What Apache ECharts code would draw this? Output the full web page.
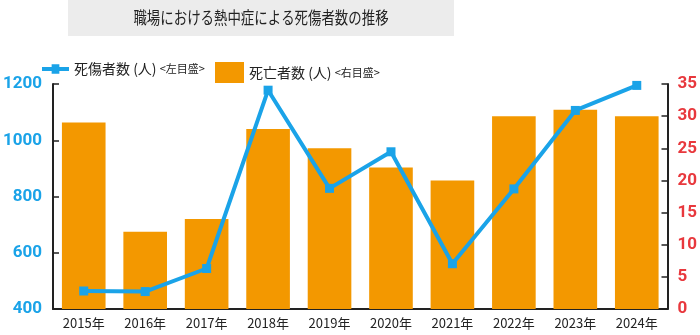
<!DOCTYPE html>
<html><head><meta charset="utf-8">
<script src="https://cdn.jsdelivr.net/npm/echarts@6/dist/echarts.min.js"></script>
<style>html,body{margin:0;padding:0;background:#fff}#c{width:700px;height:335px}</style>
</head><body><div id="c"></div>
<script>
const categories = ['2015年','2016年','2017年','2018年','2019年','2020年','2021年','2022年','2023年','2024年'];
const casualties = [464, 462, 544, 1178, 829, 959, 561, 827, 1106, 1195];
const deaths = [29, 12, 14, 28, 25, 22, 20, 30, 31, 30];
const leftTicks = [400, 1200, 200];
const rightTicks = [0, 35, 5];
const chart = echarts.init(document.getElementById('c'));
const jp = '"Noto Sans CJK JP", sans-serif';
const legendText = {rich:{a:{fontSize:14, fontFamily:jp, color:'#222'}, b:{fontSize:11, fontFamily:jp, color:'#222'}}};
chart.setOption({
  animation: false,
  graphic: [
    {type:'rect', shape:{x:68,y:0,width:386,height:36}, style:{fill:'#ececec'}},
    {type:'text', x:261, y:18, scaleX:0.79, originX:0, style:{text:'職場における熱中症による死傷者数の推移', fill:'#222', font:'17px "Noto Sans CJK JP"', align:'center', verticalAlign:'middle'}}
  ],
  legend: [
    {top: 57, left: 37, itemGap: 0, itemWidth: 27, itemHeight: 20,
     data: [{name:'死傷者数', icon:'path://M0,8 L10,8 L10,5 L18,5 L18,8 L28,8 L28,12 L18,12 L18,15 L10,15 L10,12 L0,12 Z', itemStyle:{color:'#1aa3e8'}}],
     formatter: () => '{a|死傷者数 (人) }{b|<左目盛>}', textStyle: legendText},
    {top: 57, left: 210, itemGap: 0, itemWidth: 29, itemHeight: 21,
     data: [{name:'死亡者数', icon:'rect', itemStyle:{color:'#f39800'}}],
     formatter: () => '{a|死亡者数 (人) }{b|<右目盛>}', textStyle: legendText}
  ],
  grid: {left:52, right:31, top:84, bottom:26},
  xAxis: {
    type:'category', data: categories,
    axisLine:{lineStyle:{color:'#222', width:2}},
    axisTick:{inside:true, length:5, lineStyle:{color:'#222', width:1.5}},
    axisLabel:{color:'#222', fontSize:13, fontFamily:jp, margin:8}
  },
  yAxis: [
    {type:'value', min:leftTicks[0], max:leftTicks[1], interval:leftTicks[2], position:'left',
     splitLine:{show:false},
     axisLine:{show:true, lineStyle:{color:'#222', width:2}},
     axisTick:{show:true, inside:true, length:6, lineStyle:{color:'#222', width:1.5}},
     axisLabel:{color:'#1aa3e8', fontSize:17, fontWeight:'bold', fontFamily:'Roboto', margin:11, formatter: v => String(v)}},
    {type:'value', min:rightTicks[0], max:rightTicks[1], interval:rightTicks[2], position:'right',
     splitLine:{show:false},
     axisLine:{show:true, lineStyle:{color:'#222', width:2}},
     axisTick:{show:true, inside:true, length:6, lineStyle:{color:'#222', width:1.5}},
     axisLabel:{color:'#e8383d', fontSize:17, fontWeight:'bold', fontFamily:'Roboto', margin:10}}
  ],
  series: [
    {name:'死亡者数', type:'bar', yAxisIndex:1, data: deaths, barWidth:'71%', itemStyle:{color:'#f39800'}},
    {name:'死傷者数', type:'line', yAxisIndex:0, data: casualties, symbol:'rect', symbolSize:9,
     lineStyle:{color:'#1aa3e8', width:4}, itemStyle:{color:'#1aa3e8'}, z:5}
  ]
});
</script></body></html>
